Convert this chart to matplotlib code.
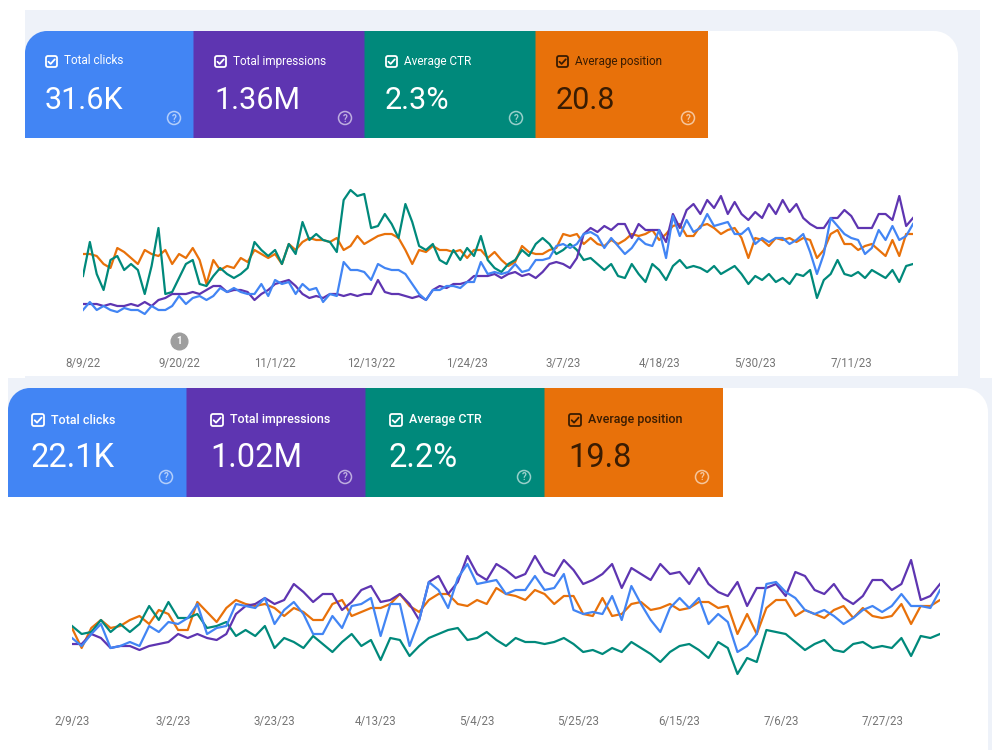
import matplotlib
matplotlib.use('Agg')
import matplotlib.pyplot as plt
import matplotlib.transforms as mtransforms
from matplotlib.patches import Rectangle, FancyBboxPatch, Circle, PathPatch
from matplotlib.path import Path
import pandas as pd

plt.rcParams['font.family'] = ['Roboto', 'DejaVu Sans']

# ---- upper report: 8/9/22 - 8/7/23, one reading every 3 days (relative level 0-100)
top_start = '2022-08-09'
top_clicks = [20, 24, 20, 22, 20, 19, 21, 20, 20, 18, 22, 20, 20, 22, 27, 23, 26, 27, 25, 27,
              31, 29, 31, 29, 28, 28, 33, 27, 35, 33, 34, 28, 33, 30, 31, 24, 28, 27, 44, 40,
              40, 39, 35, 43, 41, 40, 40, 38, 33, 28, 25, 30, 30, 32, 32, 31, 34, 34, 44, 38,
              39, 38, 39, 43, 39, 40, 45, 45, 46, 52, 53, 51, 53, 58, 59, 57, 51, 56, 52, 48,
              51, 56, 53, 52, 60, 46, 67, 57, 65, 59, 61, 68, 62, 63, 64, 58, 58, 61, 53, 56,
              54, 56, 56, 53, 55, 58, 49, 38, 48, 66, 62, 58, 56, 55, 48, 51, 60, 55, 62, 55,
              57, 63]
top_impr = [23, 23, 23, 22, 23, 22, 22, 23, 22, 24, 22, 25, 26, 28, 28, 28, 29, 28, 30, 32,
            32, 29, 30, 30, 29, 25, 28, 30, 33, 34, 35, 32, 28, 26, 27, 26, 28, 28, 27, 28,
            27, 28, 28, 35, 29, 28, 28, 27, 26, 27, 25, 30, 32, 31, 33, 33, 34, 37, 37, 37,
            38, 36, 38, 39, 37, 38, 36, 39, 43, 44, 43, 41, 46, 58, 61, 59, 62, 60, 63, 63,
            56, 63, 60, 60, 60, 54, 68, 61, 70, 73, 68, 75, 71, 77, 68, 74, 68, 65, 69, 66,
            73, 68, 75, 69, 73, 66, 63, 61, 61, 66, 66, 70, 67, 61, 61, 61, 68, 68, 65, 77,
            62, 66]
top_ctr = [37, 54, 38, 30, 45, 47, 40, 43, 40, 28, 42, 61, 28, 29, 36, 43, 45, 33, 32, 37,
           41, 38, 36, 38, 41, 54, 50, 47, 50, 43, 53, 48, 64, 55, 58, 55, 54, 49, 75, 80,
           77, 78, 61, 62, 68, 63, 56, 73, 64, 52, 50, 53, 45, 43, 50, 45, 51, 47, 57, 45,
           41, 39, 43, 45, 50, 47, 53, 56, 53, 48, 50, 53, 50, 45, 46, 43, 40, 43, 37, 36,
           43, 38, 34, 43, 40, 35, 42, 45, 41, 42, 41, 39, 42, 38, 40, 42, 38, 33, 37, 35,
           38, 34, 36, 33, 38, 37, 40, 26, 35, 38, 45, 38, 37, 39, 36, 40, 38, 36, 40, 34,
           42, 43]
top_pos = [48, 48, 47, 43, 41, 51, 49, 46, 43, 50, 48, 47, 50, 43, 48, 46, 51, 45, 33, 45,
           40, 42, 41, 46, 44, 50, 48, 46, 48, 43, 53, 50, 54, 56, 55, 55, 54, 56, 50, 52,
           57, 53, 55, 57, 58, 58, 56, 50, 43, 50, 49, 52, 50, 50, 49, 50, 46, 50, 50, 46,
           49, 45, 42, 44, 52, 49, 48, 48, 50, 51, 58, 57, 58, 53, 56, 53, 52, 55, 53, 55,
           58, 57, 58, 60, 55, 58, 62, 63, 57, 57, 62, 63, 61, 58, 60, 61, 56, 46, 56, 55,
           52, 56, 55, 56, 54, 56, 55, 46, 50, 58, 60, 53, 53, 50, 52, 53, 50, 47, 55, 47,
           58, 58]
top_ticks = ['8/9/22', '9/20/22', '11/1/22', '12/13/22', '1/24/23', '3/7/23', '4/18/23',
             '5/30/23', '7/11/23']
top_events = ['9/20/22']
top_values = ['31.6K', '1.36M', '2.3%', '20.8']

# ---- lower report: 2/9/23 - 8/8/23, one reading every 2 days
bot_start = '2023-02-09'
bot_clicks = [41, 37, 43, 48, 36, 37, 39, 37, 47, 44, 49, 48, 51, 58, 43, 46, 47, 58, 57, 56,
              61, 48, 55, 59, 53, 43, 43, 52, 46, 57, 58, 61, 42, 58, 58, 37, 50, 69, 65, 56,
              71, 78, 68, 69, 70, 63, 65, 65, 72, 65, 66, 73, 55, 53, 54, 53, 62, 50, 67, 58,
              50, 44, 56, 61, 56, 61, 48, 53, 49, 34, 37, 43, 68, 69, 64, 61, 55, 53, 55, 52,
              48, 51, 55, 57, 54, 57, 63, 57, 57, 56, 65]
bot_impr = [38, 38, 43, 41, 36, 37, 37, 35, 37, 38, 39, 43, 41, 43, 41, 40, 43, 53, 57, 58,
            61, 58, 60, 68, 64, 59, 63, 63, 55, 59, 65, 67, 59, 60, 63, 58, 50, 69, 72, 63,
            69, 82, 73, 70, 78, 75, 71, 73, 82, 74, 72, 80, 75, 68, 70, 73, 78, 66, 76, 73,
            70, 78, 73, 74, 68, 76, 68, 64, 62, 69, 57, 66, 66, 68, 62, 74, 72, 65, 63, 68,
            61, 58, 62, 70, 70, 65, 68, 80, 60, 62, 68]
bot_ctr = [47, 43, 44, 50, 44, 48, 44, 48, 57, 50, 59, 51, 51, 53, 46, 47, 49, 42, 45, 42,
           47, 36, 41, 39, 36, 42, 38, 34, 39, 43, 37, 40, 30, 41, 40, 32, 37, 41, 43, 45,
           46, 40, 41, 44, 40, 37, 41, 39, 39, 38, 39, 41, 38, 34, 35, 33, 36, 34, 39, 36,
           33, 29, 34, 37, 38, 35, 31, 39, 36, 23, 31, 29, 45, 44, 43, 39, 35, 38, 40, 35,
           34, 38, 39, 36, 37, 36, 41, 32, 42, 41, 43]
bot_pos = [46, 36, 46, 50, 46, 47, 50, 52, 48, 55, 53, 45, 45, 59, 54, 49, 56, 60, 58, 57,
           58, 56, 52, 56, 54, 50, 50, 58, 60, 52, 54, 56, 56, 58, 63, 57, 54, 60, 63, 63,
           58, 57, 60, 58, 66, 63, 62, 60, 65, 63, 58, 62, 62, 53, 52, 61, 52, 53, 58, 59,
           55, 56, 58, 55, 56, 59, 59, 56, 57, 43, 53, 43, 56, 60, 60, 52, 55, 53, 51, 55,
           57, 51, 56, 52, 51, 52, 58, 48, 57, 57, 60]
bot_ticks = ['2/9/23', '3/2/23', '3/23/23', '4/13/23', '5/4/23', '5/25/23', '6/15/23',
             '7/6/23', '7/27/23']
bot_values = ['22.1K', '1.02M', '2.2%', '19.8']

metric_labels = ['Total clicks', 'Total impressions', 'Average CTR', 'Average position']
metric_colors = ['#4285f4', '#5e35b1', '#00897b', '#e8710a']
metric_text = ['white', 'white', 'white', '#3a1c02']
LIGHT = '#eef2f9'

fig = plt.figure(figsize=(10, 7.5), dpi=100)

# backdrop drawn in pixel units (y grows downwards)
bg = fig.add_axes([0, 0, 1, 1])
bg.set_xlim(0, 1000)
bg.set_ylim(750, 0)
bg.axis('off')

K = 0.5523


def rrect(x0, y0, x1, y1, r_tl, r_tr, fc):
    # rectangle with rounded top-left / top-right corners only
    verts = [(x0 + r_tl, y0), (x1 - r_tr, y0),
             (x1 - r_tr + K * r_tr, y0), (x1, y0 + r_tr - K * r_tr), (x1, y0 + r_tr),
             (x1, y1), (x0, y1), (x0, y0 + r_tl),
             (x0, y0 + r_tl - K * r_tl), (x0 + r_tl - K * r_tl, y0), (x0 + r_tl, y0),
             (x0 + r_tl, y0)]
    codes = [Path.MOVETO, Path.LINETO,
             Path.CURVE4, Path.CURVE4, Path.CURVE4,
             Path.LINETO, Path.LINETO, Path.LINETO,
             Path.CURVE4, Path.CURVE4, Path.CURVE4,
             Path.CLOSEPOLY]
    bg.add_patch(PathPatch(Path(verts, codes), fc=fc, ec='none'))


def checkbox(x, y, s, color):
    bg.add_patch(FancyBboxPatch((x, y), s, s, boxstyle='round,pad=0,rounding_size=2',
                                fc='none', ec=color, lw=1.3))
    bg.plot([x + 0.22 * s, x + 0.42 * s, x + 0.8 * s],
            [y + 0.52 * s, y + 0.72 * s, y + 0.3 * s], color=color, lw=1.3,
            solid_capstyle='round', solid_joinstyle='round')


def tiles(edges, y0, y1, values, r, cb_dx, cb_y, cb_s, lab_dx, lab_y, val_y, q_dx, q_y,
          lab_size, val_size, weight):
    for i in range(4):
        x0, x1 = edges[i], edges[i + 1]
        c = metric_colors[i]
        tc = metric_text[i]
        rrect(x0 - (0 if i == 0 else 0.5), y0, x1, y1, r if i == 0 else 0, 0, c)
        checkbox(x0 + cb_dx, cb_y, cb_s, tc)
        bg.text(x0 + lab_dx, lab_y, metric_labels[i], fontsize=lab_size, color=tc,
                ha='left', va='center', weight=weight)
        bg.text(x0 + cb_dx - 1, val_y, values[i], fontsize=val_size, color=tc,
                ha='left', va='baseline')
        bg.add_patch(Circle((x1 - q_dx, q_y), 6.5, fc='none', ec='white', lw=1.1,
                            alpha=0.6))
        bg.text(x1 - q_dx, q_y + 0.5, '?', fontsize=7, color='white', alpha=0.6,
                ha='center', va='center', weight='bold')


# upper report frame
bg.add_patch(Rectangle((25, 10), 955, 368, fc=LIGHT, ec='none'))
rrect(25, 31, 958, 376, 22, 24, 'white')
tiles([25, 194, 365, 536, 708], 31, 138, top_values, 22, 21, 56, 11, 39, 61, 109, 20, 118,
      8.5, 22, 'normal')

# lower report frame
bg.add_patch(Rectangle((8, 378), 984, 372, fc=LIGHT, ec='none'))
rrect(8, 388, 988, 752, 22, 24, 'white')
tiles([8, 187, 366, 545, 723], 388, 497, bot_values, 22, 24, 414, 12, 43, 420, 467, 21,
      477, 9, 23.5, 'medium')


def chart(rect, start, step, series, ylim, ticks, pad):
    ax = fig.add_axes(rect)
    ax.patch.set_alpha(0)
    dates = pd.date_range(start, periods=len(series[0]), freq=step)
    for vals, c in zip(series, [metric_colors[3], metric_colors[2],
                                metric_colors[1], metric_colors[0]]):
        ax.plot(dates, vals, color=c, lw=1.6, solid_joinstyle='round')
    ax.set_xlim(dates[0], dates[-1])
    ax.set_ylim(*ylim)
    ax.set_xticks(pd.to_datetime(ticks, format='%m/%d/%y'))
    ax.set_xticklabels(ticks)
    ax.set_yticks([])
    ax.tick_params(axis='x', length=0, pad=pad, labelsize=8.3, labelcolor='#757575')
    for s in ax.spines.values():
        s.set_visible(False)
    return ax


ax1 = chart([0.083, 1 - 350 / 750, 0.830, 200 / 750], top_start, '3D',
            [top_pos, top_ctr, top_impr, top_clicks], (0, 100), top_ticks, 4.7)
ax2 = chart([0.072, 1 - 700 / 750, 0.868, 180 / 750], bot_start, '2D',
            [bot_pos, bot_ctr, bot_impr, bot_clicks], (10, 100), bot_ticks, 11)

# annotation marker on the upper timeline
trans = mtransforms.blended_transform_factory(ax1.transData, ax1.transAxes)
for ev in pd.to_datetime(top_events, format='%m/%d/%y'):
    ax1.plot([ev], [0.045], 'o', ms=12, color='#9e9e9e', transform=trans, clip_on=False)
    ax1.text(ev, 0.045, '1', transform=trans, ha='center', va='center', fontsize=7,
             color='white', weight='bold')

fig.savefig('out.png', dpi=100)
